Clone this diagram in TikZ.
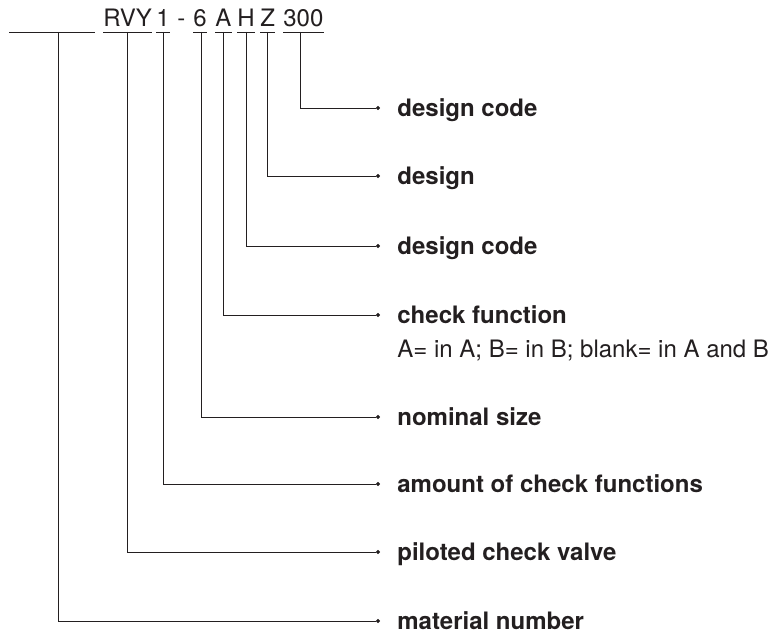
\documentclass[tikz,border=0pt]{standalone}
\usepackage{fontspec}
\setmainfont{TeX Gyre Heros}
\usetikzlibrary{positioning,arrows.meta}
\definecolor{ink}{HTML}{231F20}
\tikzset{
  code/.style={inner sep=0pt, anchor=base west},
  lbl/.style={inner sep=0pt, font=\bfseries, text height=17pt, text depth=0pt},
  note/.style={inner sep=0pt, anchor=base west},
  lead/.style={-{Circle[length=4pt]}, line width=0.8pt},
}
\begin{document}
\begin{tikzpicture}[x=1pt, y=-1pt, color=ink, line width=0.8pt]
      \useasboundingbox (0, 0) rectangle (780, 636);
      \fontsize{24}{34}\selectfont
      % type code
      \coordinate (blank-l) at (9, 32);
      \coordinate (blank-r) at (95, 32);
      \coordinate (blank) at (58, 32);
      \draw (blank-l) -- (blank-r);
      \node[code] (rvy) at (103, 27) {RVY};
      \node[code] (one) at (156, 27) {1};
      \node[code] (dash) at (177, 27) {-};
      \node[code] (six) at (193, 27) {6};
      \node[code] (a) at (215, 27) {A};
      \node[code] (h) at (237, 27) {H};
      \node[code] (z) at (260, 27) {Z};
      \node[code] (ttt) at (283, 27) {300};
      \draw ([yshift=-5pt]rvy.base west) -- ([yshift=-5pt]rvy.base east);
      \draw ([yshift=-5pt]one.base west) -- ([yshift=-5pt]one.base east);
      \draw ([yshift=-5pt]six.base west) -- ([yshift=-5pt]six.base east);
      \draw ([yshift=-5pt]a.base west) -- ([yshift=-5pt]a.base east);
      \draw ([yshift=-5pt]h.base west) -- ([yshift=-5pt]h.base east);
      \draw ([yshift=-5pt]z.base west) -- ([yshift=-5pt]z.base east);
      \draw ([yshift=-5pt]ttt.base west) -- ([yshift=-5pt]ttt.base east);
      % leader ends
      \coordinate (d1) at (380, 108);
      \coordinate (d2) at (380, 176);
      \coordinate (d3) at (380, 246);
      \coordinate (d4) at (380, 315);
      \coordinate (d5) at (380, 417);
      \coordinate (d6) at (380, 484);
      \coordinate (d7) at (380, 552);
      \coordinate (d8) at (380, 621);
      % labels
      \node[lbl, right=17pt of d1] (l1) {design code};
      \node[lbl, right=17pt of d2] (l2) {design};
      \node[lbl, right=17pt of d3] (l3) {design code};
      \node[lbl, right=17pt of d4] (l4) {check function};
      \node[note] (l4b) at ([yshift=-34pt]l4.base west) {A= in A; B= in B; blank= in A and B};
      \node[lbl, right=17pt of d5] (l5) {nominal size};
      \node[lbl, right=17pt of d6] (l6) {amount of check functions};
      \node[lbl, right=17pt of d7] (l7) {piloted check valve};
      \node[lbl, right=17pt of d8] (l8) {material number};
      % leaders
      \draw[lead] ([xshift=-3pt, yshift=-5pt]ttt.base) |- (d1);
      \draw[lead] ([yshift=-5pt]z.base) |- (d2);
      \draw[lead] ([yshift=-5pt]h.base) |- (d3);
      \draw[lead] ([yshift=-5pt]a.base) |- (d4);
      \draw[lead] ([xshift=1pt, yshift=-5pt]six.base) |- (d5);
      \draw[lead] ([yshift=-5pt]one.base) |- (d6);
      \draw[lead] ([yshift=-5pt]rvy.base) |- (d7);
      \draw[lead] (blank) |- (d8);
    \end{tikzpicture}
\end{document}
